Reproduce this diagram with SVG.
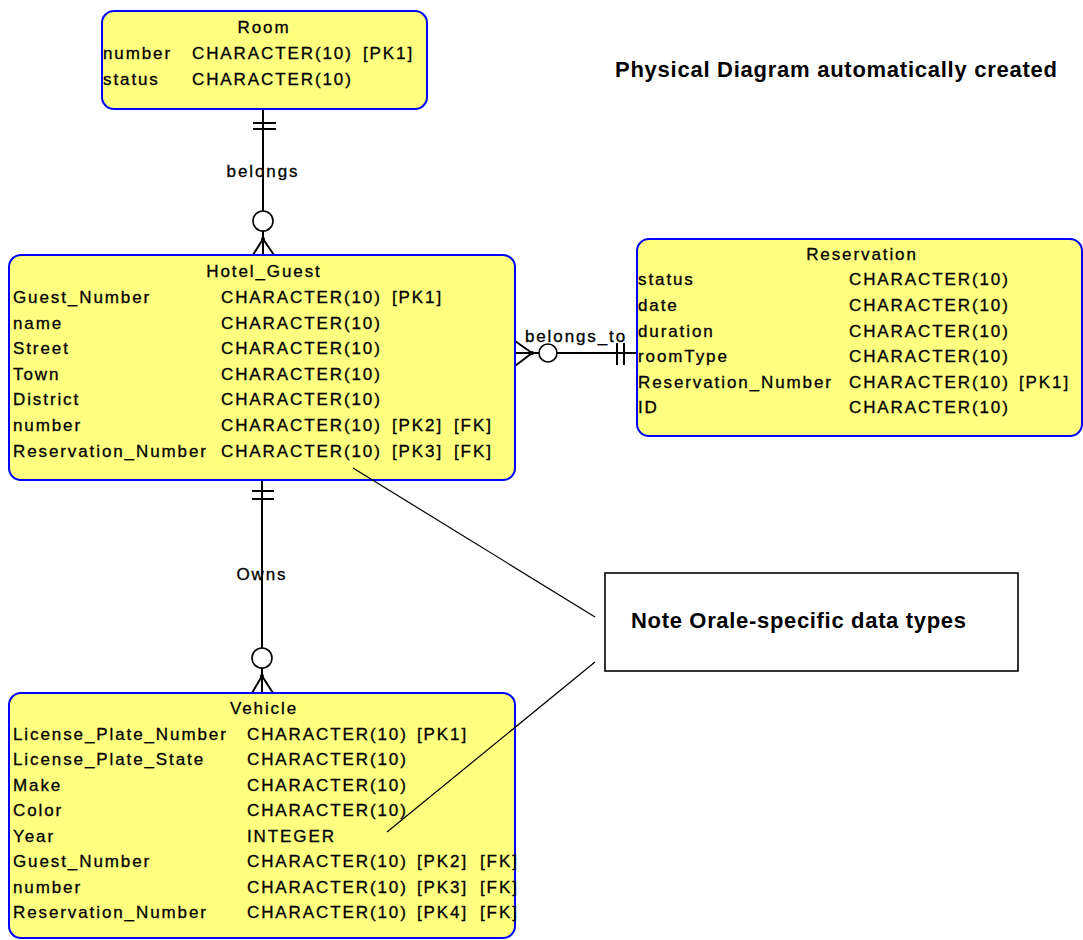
<svg xmlns="http://www.w3.org/2000/svg" width="1083" height="940" viewBox="0 0 1083 940">
  <style>
    .ent { fill: #FFFF80; stroke: #0000FF; stroke-width: 2; }
    .t { font-family: "Liberation Sans", Arial, sans-serif; font-size: 17px; letter-spacing: 1.9px; fill: #000; stroke: #000; stroke-width: 0.3; }
    .mid { text-anchor: middle; }
    .rel { stroke: #000; stroke-width: 2; fill: none; }
    .opt { stroke: #000; stroke-width: 1.6; fill: #fff; }
    .dot { fill: #000; }
    .bold { font-family: "Liberation Sans", Arial, sans-serif; font-size: 22px; font-weight: bold; fill: #000; }
    .note { fill: #fff; stroke: #000; stroke-width: 1.6; }
    .link { stroke: #000; stroke-width: 1.2; fill: none; }
  </style>

  <rect width="1083" height="940" fill="#fff"/>

  <!-- relationships -->
  <g id="connectors">
    <!-- Room 1 .. 0..n Hotel_Guest : belongs -->
    <g id="rel-belongs">
      <line class="rel" x1="263" y1="109" x2="263" y2="255"/>
      <line class="rel" x1="253" y1="123" x2="276" y2="123"/>
      <line class="rel" x1="253" y1="129" x2="276" y2="129"/>
      <circle class="opt" cx="263" cy="221" r="10"/>
      <polyline class="rel" points="253,255 263,239 274,255"/>
      <circle class="dot" cx="263" cy="239" r="2"/>
      <text class="t mid" x="263" y="177">belongs</text>
    </g>
    <!-- Reservation 1 .. 0..n Hotel_Guest : belongs_to -->
    <g id="rel-belongs-to">
      <line class="rel" x1="515" y1="353" x2="637" y2="353"/>
      <line class="rel" x1="617" y1="343" x2="617" y2="365"/>
      <line class="rel" x1="624" y1="343" x2="624" y2="365"/>
      <circle class="opt" cx="548" cy="353" r="9"/>
      <polyline class="rel" points="515,341 532,353 515,366"/>
      <circle class="dot" cx="532" cy="353" r="2"/>
      <text class="t mid" x="576" y="342">belongs_to</text>
    </g>
    <!-- Hotel_Guest 1 .. 0..n Vehicle : Owns -->
    <g id="rel-owns">
      <line class="rel" x1="262" y1="480" x2="262" y2="693"/>
      <line class="rel" x1="252" y1="491" x2="274" y2="491"/>
      <line class="rel" x1="252" y1="499" x2="274" y2="499"/>
      <circle class="opt" cx="262" cy="658" r="10"/>
      <polyline class="rel" points="252,693 262,676 273,693"/>
      <circle class="dot" cx="262" cy="676" r="2"/>
      <text class="t mid" x="262" y="580">Owns</text>
    </g>
  </g>

  <!-- entities -->
  <g id="room">
    <rect class="ent" x="102" y="11" width="325" height="98" rx="12"/>
    <text class="t mid" x="264" y="33">Room</text>
    <text class="t" x="103" y="59">number</text>
    <text class="t" x="192" y="59">CHARACTER(10)</text>
    <text class="t" x="363" y="59">[PK1]</text>
    <text class="t" x="103" y="85">status</text>
    <text class="t" x="192" y="85">CHARACTER(10)</text>
  </g>

  <g id="hotel-guest">
    <rect class="ent" x="9" y="255" width="506" height="225" rx="12"/>
    <text class="t mid" x="264" y="277">Hotel_Guest</text>
    <text class="t" x="13" y="303">Guest_Number</text>
    <text class="t" x="221" y="303">CHARACTER(10)</text>
    <text class="t" x="392" y="303">[PK1]</text>
    <text class="t" x="13" y="329">name</text>
    <text class="t" x="221" y="329">CHARACTER(10)</text>
    <text class="t" x="13" y="354">Street</text>
    <text class="t" x="221" y="354">CHARACTER(10)</text>
    <text class="t" x="13" y="380">Town</text>
    <text class="t" x="221" y="380">CHARACTER(10)</text>
    <text class="t" x="13" y="405">District</text>
    <text class="t" x="221" y="405">CHARACTER(10)</text>
    <text class="t" x="13" y="431">number</text>
    <text class="t" x="221" y="431">CHARACTER(10)</text>
    <text class="t" x="392" y="431">[PK2]</text>
    <text class="t" x="454" y="431">[FK]</text>
    <text class="t" x="13" y="457">Reservation_Number</text>
    <text class="t" x="221" y="457">CHARACTER(10)</text>
    <text class="t" x="392" y="457">[PK3]</text>
    <text class="t" x="454" y="457">[FK]</text>
  </g>

  <g id="reservation">
    <rect class="ent" x="637" y="239" width="445" height="197" rx="12"/>
    <text class="t mid" x="862" y="260">Reservation</text>
    <text class="t" x="638" y="285">status</text>
    <text class="t" x="849" y="285">CHARACTER(10)</text>
    <text class="t" x="638" y="311">date</text>
    <text class="t" x="849" y="311">CHARACTER(10)</text>
    <text class="t" x="638" y="337">duration</text>
    <text class="t" x="849" y="337">CHARACTER(10)</text>
    <text class="t" x="638" y="362">roomType</text>
    <text class="t" x="849" y="362">CHARACTER(10)</text>
    <text class="t" x="638" y="388">Reservation_Number</text>
    <text class="t" x="849" y="388">CHARACTER(10)</text>
    <text class="t" x="1019" y="388">[PK1]</text>
    <text class="t" x="638" y="413">ID</text>
    <text class="t" x="849" y="413">CHARACTER(10)</text>
  </g>

  <g id="vehicle">
    <rect class="ent" x="9" y="693" width="506" height="245" rx="12"/>
    <text class="t mid" x="264" y="714">Vehicle</text>
    <text class="t" x="13" y="740">License_Plate_Number</text>
    <text class="t" x="247" y="740">CHARACTER(10)</text>
    <text class="t" x="417" y="740">[PK1]</text>
    <text class="t" x="13" y="765">License_Plate_State</text>
    <text class="t" x="247" y="765">CHARACTER(10)</text>
    <text class="t" x="13" y="791">Make</text>
    <text class="t" x="247" y="791">CHARACTER(10)</text>
    <text class="t" x="13" y="816">Color</text>
    <text class="t" x="247" y="816">CHARACTER(10)</text>
    <text class="t" x="13" y="842">Year</text>
    <text class="t" x="247" y="842">INTEGER</text>
    <text class="t" x="13" y="867">Guest_Number</text>
    <text class="t" x="247" y="867">CHARACTER(10)</text>
    <text class="t" x="417" y="867">[PK2]</text>
    <text class="t" x="480" y="867">[FK]</text>
    <text class="t" x="13" y="893">number</text>
    <text class="t" x="247" y="893">CHARACTER(10)</text>
    <text class="t" x="417" y="893">[PK3]</text>
    <text class="t" x="480" y="893">[FK]</text>
    <text class="t" x="13" y="918">Reservation_Number</text>
    <text class="t" x="247" y="918">CHARACTER(10)</text>
    <text class="t" x="417" y="918">[PK4]</text>
    <text class="t" x="480" y="918">[FK]</text>
  </g>

  <!-- annotation -->
  <g id="note">
    <rect class="note" x="605" y="573" width="413" height="98"/>
    <text class="bold" x="631" y="628" textLength="335" lengthAdjust="spacing">Note Orale-specific data types</text>
    <line class="link" x1="353" y1="468" x2="595" y2="617"/>
    <line class="link" x1="595" y1="662" x2="387" y2="832"/>
  </g>

  <text id="heading" class="bold" x="615" y="77" textLength="442" lengthAdjust="spacing">Physical Diagram automatically created</text>
</svg>
